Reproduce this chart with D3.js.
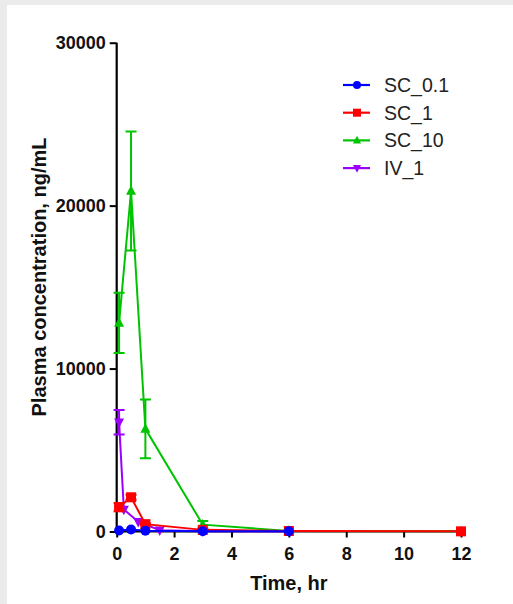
<!DOCTYPE html>
<html>
<head>
<meta charset="utf-8">
<script src="https://cdn.jsdelivr.net/npm/d3@7/dist/d3.min.js"></script>
<style>
  html, body { margin: 0; padding: 0; background: #ebebeb; }
  svg { display: block; }
  text { font-family: "Liberation Sans", Arial, sans-serif; }
</style>
</head>
<body>
<script>
// Plasma concentration–time profiles (mean ± SD)
const seriesNames = ["SC_0.1", "SC_1", "SC_10", "IV_1"];
const seriesColors = ["#0000ff", "#ff0000", "#00c400", "#9b00ff"];

const timeSC01 = [0.083, 0.5, 1, 3, 6];
const concSC01 = [60, 120, 50, 20, 10];
const sdSC01   = [0, 0, 0, 0, 0];

const timeSC1 = [0.083, 0.5, 1, 3, 6, 12];
const concSC1 = [1500, 2100, 450, 100, 30, 10];
const sdSC1   = [250, 150, 60, 20, 0, 0];

const timeSC10 = [0.083, 0.5, 1, 3, 6, 12];
const concSC10 = [12800, 20900, 6300, 420, 30, 10];
const sdSC10   = [1850, 3650, 1800, 230, 0, 0];

const timeIV1 = [0.083, 0.25, 0.75, 1.5, 3, 6];
const concIV1 = [6700, 1350, 600, 80, 20, 5];
const sdIV1   = [750, 0, 0, 0, 0, 0];

const xTicks = [0, 2, 4, 6, 8, 10, 12];
const yTicks = [0, 10000, 20000, 30000];

const W = 513, H = 604;
const svg = d3.select("body").append("svg").attr("width", W).attr("height", H);

// white plotting sheet inset from the grey page edge
svg.append("rect").attr("x", 7).attr("y", 5).attr("width", W - 7).attr("height", H - 5).attr("fill", "#ffffff");

const x = d3.scaleLinear().domain([0, 12]).range([116.7, 461]);
const y = d3.scaleLinear().domain([0, 30000]).range([531.5, 42.7]);

const build = (t, c, s) => t.map((v, i) => ({ t: v, c: c[i], sd: s[i] }));
const series = [
  { name: seriesNames[2], color: seriesColors[2], shape: "triUp",   data: build(timeSC10, concSC10, sdSC10) },
  { name: seriesNames[3], color: seriesColors[3], shape: "triDown", data: build(timeIV1, concIV1, sdIV1) },
  { name: seriesNames[1], color: seriesColors[1], shape: "square",  data: build(timeSC1, concSC1, sdSC1) },
  { name: seriesNames[0], color: seriesColors[0], shape: "circle",  data: build(timeSC01, concSC01, sdSC01) }
];

function marker(g, shape, color, size) {
  if (shape === "circle") {
    g.append("circle").attr("r", size / 2).attr("fill", color);
  } else if (shape === "square") {
    g.append("rect").attr("x", -size / 2).attr("y", -size / 2).attr("width", size).attr("height", size).attr("fill", color);
  } else if (shape === "triUp") {
    const h = size * 0.95;
    g.append("path").attr("d", `M0,${-h * 0.6}L${size / 2},${h * 0.4}L${-size / 2},${h * 0.4}Z`).attr("fill", color);
  } else {
    const h = size * 0.95;
    g.append("path").attr("d", `M0,${h * 0.6}L${size / 2},${-h * 0.4}L${-size / 2},${-h * 0.4}Z`).attr("fill", color);
  }
}

// axes
const axisColor = "#000";
const gx = svg.append("g").attr("transform", `translate(0,${y(0)})`)
  .call(d3.axisBottom(x).tickValues(xTicks).tickSize(6).tickPadding(10).tickFormat(d3.format("d")));
const gy = svg.append("g").attr("transform", `translate(${x(0)},0)`)
  .call(d3.axisLeft(y).tickValues(yTicks).tickSize(7).tickPadding(4).tickFormat(d3.format("d")));
[gx, gy].forEach(g => {
  g.select(".domain").attr("stroke", axisColor).attr("stroke-width", 2.2);
  g.selectAll(".tick line").attr("stroke", axisColor).attr("stroke-width", 2);
  g.selectAll(".tick text").attr("fill", "#111").attr("font-size", 18).attr("font-weight", "bold")
    .attr("font-family", "'Liberation Sans', Arial, sans-serif");
});
gx.select(".domain").attr("d", `M${x(0)},0H${x(12)}`);
gy.select(".domain").attr("d", `M0,${y(30000)}V${y(0)}`);

// series: lines, error bars, markers
series.forEach(s => {
  const g = svg.append("g");
  g.append("path").datum(s.data)
    .attr("d", d3.line().x(d => x(d.t)).y(d => y(d.c)))
    .attr("fill", "none").attr("stroke", s.color).attr("stroke-width", 2);
  s.data.filter(d => d.sd > 0).forEach(d => {
    const cx = x(d.t), cap = 5.5;
    g.append("path")
      .attr("d", `M${cx},${y(d.c - d.sd)}V${y(d.c + d.sd)}M${cx - cap},${y(d.c + d.sd)}H${cx + cap}M${cx - cap},${y(d.c - d.sd)}H${cx + cap}`)
      .attr("stroke", s.color).attr("stroke-width", 2).attr("fill", "none");
  });
  s.data.forEach(d => {
    marker(g.append("g").attr("transform", `translate(${x(d.t)},${y(d.c)})`), s.shape, s.color, 10);
  });
});

// axis titles
svg.append("text").attr("x", (x(0) + x(12)) / 2).attr("y", 590)
  .attr("text-anchor", "middle").attr("font-size", 20).attr("font-weight", "bold").attr("fill", "#111")
  .text("Time, hr");
svg.append("text").attr("transform", `translate(46,${277}) rotate(-90)`)
  .attr("text-anchor", "middle").attr("font-size", 20).attr("font-weight", "bold").attr("fill", "#111")
  .text("Plasma concentration, ng/mL");

// legend
const legendOrder = [
  { name: seriesNames[0], color: seriesColors[0], shape: "circle" },
  { name: seriesNames[1], color: seriesColors[1], shape: "square" },
  { name: seriesNames[2], color: seriesColors[2], shape: "triUp" },
  { name: seriesNames[3], color: seriesColors[3], shape: "triDown" }
];
const lg = svg.append("g").attr("transform", "translate(343,85)");
legendOrder.forEach((d, i) => {
  const row = lg.append("g").attr("transform", `translate(0,${i * 27.7})`);
  row.append("line").attr("x1", 0).attr("x2", 27).attr("stroke", d.color).attr("stroke-width", 2.2);
  marker(row.append("g").attr("transform", "translate(14,0)"), d.shape, d.color, 8);
  row.append("text").attr("x", 41).attr("y", 7).attr("font-size", 19.5).attr("fill", "#222").text(d.name);
});
</script>
</body>
</html>
